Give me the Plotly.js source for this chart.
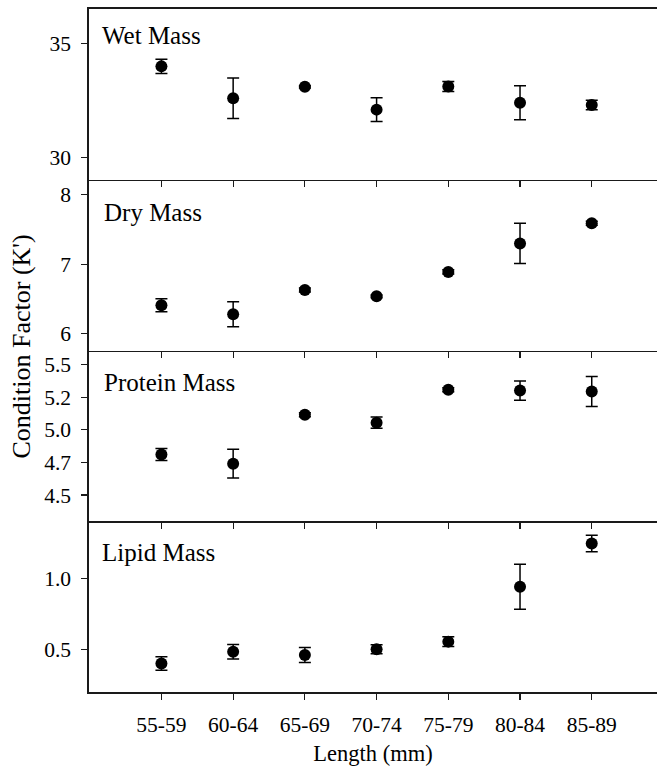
<!DOCTYPE html>
<html>
<head>
<meta charset="utf-8">
<script src="https://cdn.plot.ly/plotly-3.0.1.min.js"></script>
<style>html,body{margin:0;padding:0;background:#fff}#chart{width:657px;height:778px}</style>
</head>
<body>
<div id="chart"></div>
<script>
var categories = ["55-59", "60-64", "65-69", "70-74", "75-79", "80-84", "85-89"];

var wetMass = [34.0, 32.6, 33.1, 32.1, 33.12, 32.4, 32.3];
var wetErr  = [0.31, 0.89, 0.05, 0.52, 0.22, 0.75, 0.21];

var dryMass = [6.41, 6.28, 6.63, 6.54, 6.89, 7.30, 7.59];
var dryErr  = [0.094, 0.18, 0.03, 0.02, 0.03, 0.29, 0.03];

var proteinMass = [4.81, 4.74, 5.115, 5.054, 5.306, 5.30, 5.293];
var proteinErr  = [0.046, 0.11, 0.015, 0.043, 0.015, 0.074, 0.115];

var lipidMass = [0.40, 0.483, 0.46, 0.50, 0.554, 0.94, 1.244];
var lipidErr  = [0.047, 0.051, 0.053, 0.032, 0.035, 0.158, 0.058];

var panelLabels = ["Wet Mass", "Dry Mass", "Protein Mass", "Lipid Mass"];

var wetTickVals = [30, 35];
var wetTickText = ["30", "35"];
var dryTickVals = [6, 7, 8];
var dryTickText = ["6", "7", "8"];
var proteinTickVals = [4.5, 4.75, 5.0, 5.25, 5.5];
var proteinTickText = ["4.5", "4.7", "5.0", "5.2", "5.5"];
var lipidTickVals = [0.5, 1.0];
var lipidTickText = ["0.5", "1.0"];

var yTitle = "Condition Factor (K')";
var xTitle = "Length (mm)";

var FONT = "Liberation Serif, Times New Roman, serif";
var LINEC = "#1a1a1a";

function series(vals, errs, ax) {
  return {
    type: "scatter", mode: "markers",
    x: categories, y: vals,
    xaxis: "x", yaxis: ax,
    marker: {color: "#000", size: 12, symbol: "circle"},
    error_y: {type: "data", array: errs, visible: true, color: "#000", thickness: 1.5, width: 6},
    showlegend: false, hoverinfo: "skip"
  };
}

var data = [
  series(wetMass, wetErr, "y"),
  series(dryMass, dryErr, "y2"),
  series(proteinMass, proteinErr, "y3"),
  series(lipidMass, lipidErr, "y4")
];

function xa(anchor, labels, mirror) {
  return {
    type: "category", anchor: anchor,
    categoryorder: "array", categoryarray: categories,
    range: [-1.01, 6.91],
    showline: true, linecolor: LINEC, linewidth: 1.6, mirror: mirror,
    ticks: "outside", ticklen: 6, tickwidth: 1.2, tickcolor: LINEC,
    showticklabels: labels, showgrid: false, zeroline: false,
    tickfont: {family: FONT, size: 21.5, color: "#000"},
    ticklabelstandoff: 7
  };
}
function ya(domain, range, tv, tt) {
  return {
    domain: domain, anchor: "x", range: range,
    tickmode: "array", tickvals: tv, ticktext: tt,
    showline: true, linecolor: LINEC, linewidth: 1.6,
    ticks: "outside", ticklen: 6, tickwidth: 1.2, tickcolor: LINEC,
    showgrid: false, zeroline: false,
    tickfont: {family: FONT, size: 21.5, color: "#000"},
    ticklabelstandoff: 6
  };
}

var q = 0.25;
var LBL = {family: FONT, size: 25, color: "#000"};
var layout = {
  width: 657, height: 778,
  margin: {l: 88.5, r: 0, t: 9, b: 86.3},
  paper_bgcolor: "#fff", plot_bgcolor: "#fff",
  font: {family: FONT, color: "#000"},
  xaxis: Object.assign(xa("y4", true, false), {title: {text: xTitle, font: {family: FONT, size: 22.5, color: "#000"}, standoff: 9}}),
  xaxis2: Object.assign(xa("y", false, true), {matches: "x", overlaying: "x"}),
  xaxis3: Object.assign(xa("y2", false, false), {matches: "x", overlaying: "x"}),
  xaxis4: Object.assign(xa("y3", false, false), {matches: "x", overlaying: "x"}),
  yaxis: ya([3*q, 1], [29.02, 36.52], wetTickVals, wetTickText),
  yaxis2: ya([2*q, 3*q], [5.76, 8.216], dryTickVals, dryTickText),
  yaxis3: ya([q, 2*q], [4.299, 5.607], proteinTickVals, proteinTickText),
  yaxis4: ya([0, q], [0.20, 1.40], lipidTickVals, lipidTickText),
  annotations: [
    {text: panelLabels[0], xref: "x domain", yref: "y domain", x: 0, y: 1, xanchor: "left", yanchor: "middle", xshift: 11, yshift: -26, showarrow: false, font: LBL},
    {text: panelLabels[1], xref: "x domain", yref: "y2 domain", x: 0, y: 1, xanchor: "left", yanchor: "middle", xshift: 13, yshift: -33, showarrow: false, font: LBL},
    {text: panelLabels[2], xref: "x domain", yref: "y3 domain", x: 0, y: 1, xanchor: "left", yanchor: "middle", xshift: 13, yshift: -32, showarrow: false, font: LBL},
    {text: panelLabels[3], xref: "x domain", yref: "y4 domain", x: 0, y: 1, xanchor: "left", yanchor: "middle", xshift: 11, yshift: -31, showarrow: false, font: LBL},
    {text: yTitle, xref: "paper", yref: "paper", x: 0, y: 0.5, xanchor: "center", yanchor: "middle", xshift: -68, yshift: 4, textangle: -90, showarrow: false, font: {family: FONT, size: 26, color: "#000"}}
  ]
};

data.push({type: "scatter", x: [], y: [], xaxis: "x2", yaxis: "y", showlegend: false});
data.push({type: "scatter", x: [], y: [], xaxis: "x3", yaxis: "y2", showlegend: false});
data.push({type: "scatter", x: [], y: [], xaxis: "x4", yaxis: "y3", showlegend: false});

Plotly.newPlot("chart", data, layout, {staticPlot: true, displayModeBar: false});
</script>
</body>
</html>
